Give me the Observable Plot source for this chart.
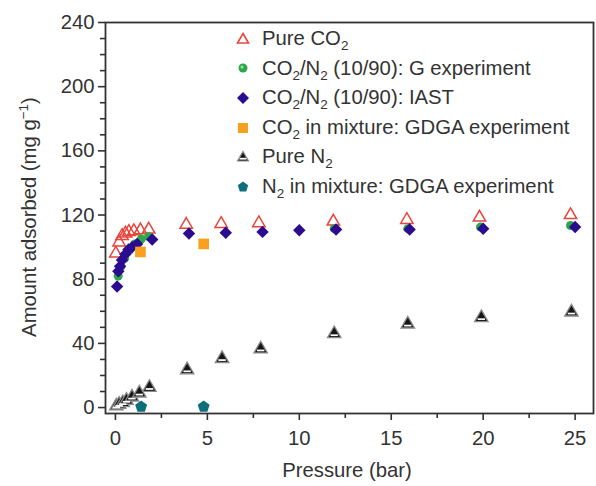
<!DOCTYPE html>
<html>
<head>
<meta charset="utf-8">
<script src="https://cdn.jsdelivr.net/npm/d3@7"></script>
<script src="https://cdn.jsdelivr.net/npm/@observablehq/plot@0.6"></script>
<style>
  html, body { margin: 0; padding: 0; background: #fff; }
  #wrap { position: relative; width: 596px; height: 486px; font-family: "Liberation Sans", Arial, Helvetica, sans-serif; color: #333; }
  #legend { position: absolute; left: 233px; top: 24px; font-size: 20.3px; line-height: 29.6px; }
  #legend .row { display: flex; align-items: center; height: 29.6px; white-space: nowrap; }
  #legend svg { width: 20px; height: 20px; margin-right: 9px; flex: none; }
  #legend sub { font-size: 13.5px; vertical-align: -5px; line-height: 0; }
</style>
</head>
<body>
<div id="wrap"></div>
<script>
// ---- Data ----
const xTicks = [0, 5, 10, 15, 20, 25];
const yTicks = [0, 40, 80, 120, 160, 200, 240];
const xMinor = [2.5, 7.5, 12.5, 17.5, 22.5];
const yMinor = [10, 20, 30, 50, 60, 70, 90, 100, 110, 130, 140, 150, 170, 180, 190, 210, 220, 230];

// Pure CO2
const pureCO2_P = [0.02, 0.2, 0.36, 0.55, 0.73, 1.0, 1.36, 1.81, 3.85, 5.75, 7.8, 11.85, 15.85, 19.8, 24.75];
const pureCO2_A = [96, 103, 107, 108.5, 109.5, 110, 110.5, 111, 114, 114.5, 115, 116, 117, 118.5, 120];

// CO2/N2 (10/90): G experiment
const gExp_P = [0.15, 0.3, 0.5, 0.75, 1.05, 1.4, 1.8, 11.9, 15.9, 19.85, 24.75];
const gExp_A = [82, 88, 93, 98, 102, 105, 106.5, 111.5, 111.5, 112.5, 113.5];

// CO2/N2 (10/90): IAST
const iast_P = [0.09, 0.16, 0.25, 0.36, 0.54, 0.71, 0.91, 1.18, 2.0, 4.0, 6.0, 8.0, 10.0, 12.0, 16.0, 20.0, 25.0];
const iast_A = [75.5, 85, 88, 92, 95.5, 98.5, 100, 102, 104.7, 108.5, 109, 109.5, 110.5, 111, 111, 111.5, 112.5];

// CO2 in mixture: GDGA experiment
const gdgaCO2_P = [1.36, 4.8];
const gdgaCO2_A = [97, 102];

// Pure N2
const pureN2_P = [0.05, 0.2, 0.4, 0.6, 0.9, 1.3, 1.85, 3.9, 5.8, 7.9, 11.9, 15.9, 19.9, 24.8];
const pureN2_A = [1, 2, 3, 4.5, 6.5, 9, 12.5, 23.5, 30.5, 36.5, 46, 52, 56, 59.5];

// N2 in mixture: GDGA experiment
const gdgaN2_P = [1.4, 4.8];
const gdgaN2_A = [0.5, 0.5];

const legendLabels = [
  "Pure CO<sub>2</sub>",
  "CO<sub>2</sub>/N<sub>2</sub> (10/90): G experiment",
  "CO<sub>2</sub>/N<sub>2</sub> (10/90): IAST",
  "CO<sub>2</sub> in mixture: GDGA experiment",
  "Pure N<sub>2</sub>",
  "N<sub>2</sub> in mixture: GDGA experiment"
];

const C = { red: "#e8453c", green: "#2ca84a", indigo: "#2b0b8f", orange: "#f7a11e", black: "#161616", teal: "#0d6f7b" };

const rows = (P, A) => P.map((p, i) => ({ p, a: A[i] }));

// custom symbols
const pentagon = {
  draw(ctx, size) {
    const r = Math.sqrt(size / Math.PI) * 1.12;
    for (let i = 0; i < 5; i++) {
      const t = -Math.PI / 2 + i * 2 * Math.PI / 5;
      const x = r * Math.cos(t), y = r * Math.sin(t);
      if (i === 0) ctx.moveTo(x, y); else ctx.lineTo(x, y);
    }
    ctx.closePath();
  }
};
const stripe = {
  draw(ctx, size) {
    const y0 = Math.sqrt(size / (Math.sqrt(3) * 3));
    ctx.rect(-0.95 * y0, 0.15 * y0, 1.9 * y0, 0.45 * y0);
  }
};

const chart = Plot.plot({
  width: 596,
  height: 486,
  marginLeft: 105,
  marginRight: 3,
  marginTop: 22,
  marginBottom: 73,
  style: { fontFamily: "'Liberation Sans', Arial, Helvetica, sans-serif", fontSize: "20.3px", color: "#333", background: "#fff" },
  x: { domain: [-0.54, 26.0] },
  y: { domain: [-3.7, 240] },
  marks: [
    Plot.axisX({ ticks: xTicks, tickSize: 7, tickPadding: 10, label: null, stroke: "#333", strokeWidth: 1.6 }),
    Plot.axisX({ ticks: xMinor, tickSize: 5, text: null, label: null, stroke: "#333", strokeWidth: 1.6 }),
    Plot.axisY({ ticks: yTicks, tickSize: 7, tickPadding: 4, label: null, stroke: "#333", strokeWidth: 1.6 }),
    Plot.axisY({ ticks: yMinor, tickSize: 5, text: null, label: null, stroke: "#333", strokeWidth: 1.6 }),
    Plot.frame({ stroke: "#333", strokeWidth: 1.8 }),
    Plot.dot(rows(pureCO2_P, pureCO2_A), { x: "p", y: "a", symbol: "triangle", r: 4.6, stroke: C.red, strokeWidth: 1.5, fill: "none" }),
    Plot.dot(rows(gExp_P, gExp_A), { x: "p", y: "a", symbol: "circle", r: 4.5, fill: C.green, stroke: "none" }),
    Plot.dot(rows(iast_P, iast_A), { x: "p", y: "a", symbol: "diamond2", r: 5.6, fill: C.indigo, stroke: "none" }),
    Plot.dot(rows(gdgaCO2_P, gdgaCO2_A), { x: "p", y: "a", symbol: "square", r: 6, fill: C.orange, stroke: "none" }),
    Plot.dot(rows(pureN2_P, pureN2_A), { x: "p", y: "a", symbol: "triangle", r: 5, fill: C.black, stroke: "#8a8a8a", strokeWidth: 1.3 }),
    Plot.dot(rows(pureN2_P, pureN2_A), { x: "p", y: "a", symbol: stripe, r: 5, fill: "#fff", stroke: "none" }),
    Plot.dot(rows(gdgaN2_P, gdgaN2_A), { x: "p", y: "a", symbol: pentagon, r: 5.6, fill: C.teal, stroke: "none" })
  ]
});

const wrap = document.getElementById("wrap");
wrap.appendChild(chart);

// axis titles with super/subscripts
const svg = d3.select(chart);
const yt = svg.append("text")
  .attr("transform", "translate(36,217) rotate(-90)")
  .attr("text-anchor", "middle")
  .attr("fill", "#333")
  .style("font-size", "20.3px");
yt.append("tspan").text("Amount adsorbed (mg g");
yt.append("tspan").attr("dy", "-8").style("font-size", "13.5px").text("−1");
yt.append("tspan").attr("dy", "8").text(")");

svg.append("text")
  .attr("x", 347).attr("y", 477)
  .attr("text-anchor", "middle")
  .attr("fill", "#333")
  .style("font-size", "20.3px")
  .text("Pressure (bar)");

// legend
const icons = [
  `<svg viewBox="-10 -10 20 20"><path d="M0,-5.5L5.5,4L-5.5,4Z" fill="none" stroke="${C.red}" stroke-width="1.6"/></svg>`,
  `<svg viewBox="-10 -10 20 20"><circle r="4.5" fill="${C.green}"/><circle cx="-1" cy="-1" r="1.5" fill="#9be0a8"/></svg>`,
  `<svg viewBox="-10 -10 20 20"><path d="M0,-6L6,0L0,6L-6,0Z" fill="${C.indigo}"/></svg>`,
  `<svg viewBox="-10 -10 20 20"><rect x="-5" y="-5" width="10" height="10" fill="${C.orange}"/></svg>`,
  `<svg viewBox="-10 -10 20 20"><path d="M0,-5.5L5.5,4L-5.5,4Z" fill="${C.black}" stroke="#8a8a8a" stroke-width="1.2"/><rect x="-3.5" y="0.8" width="7" height="1.8" fill="#fff"/></svg>`,
  `<svg viewBox="-10 -10 20 20"><path d="M0,-5.5L5.2,-1.7L3.2,4.5L-3.2,4.5L-5.2,-1.7Z" fill="${C.teal}"/></svg>`
];
const legend = document.createElement("div");
legend.id = "legend";
legend.innerHTML = legendLabels.map((t, i) => `<div class="row">${icons[i]}<span>${t}</span></div>`).join("");
wrap.appendChild(legend);
</script>
</body>
</html>
